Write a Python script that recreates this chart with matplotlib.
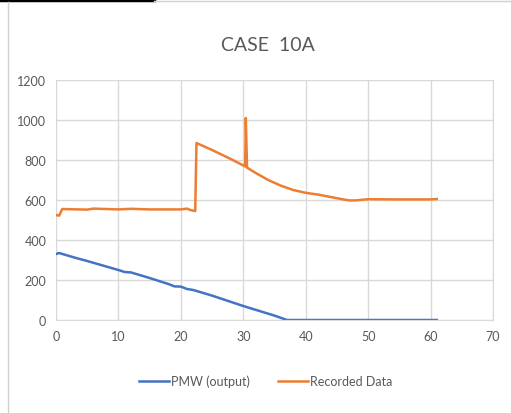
import matplotlib.pyplot as plt
from matplotlib.lines import Line2D

# PMW (output)
pmw_x = [0, 0.5, 3, 5, 8, 10, 11, 12, 15, 18, 19, 20, 21, 22, 25, 30, 35, 37, 40, 50, 61]
pmw_y = [330, 335, 312, 295, 268, 250, 240, 238, 210, 180, 168, 167, 155, 150, 122, 70, 22, 0, 0, 0, 0]

# Recorded Data
rec_x = [0, 0.5, 1, 5, 6, 10, 12, 15, 20, 21, 21.5, 22.3, 22.5, 23, 25, 28, 30.3, 30.4, 30.6,
         32, 34, 36, 38, 40, 42, 44, 46, 47, 48, 50, 55, 60, 61]
rec_y = [525, 522, 555, 552, 557, 553, 556, 553, 553, 557, 550, 545, 885, 878, 850, 805, 768, 1010, 762,
         735, 700, 672, 650, 636, 627, 615, 603, 598, 598, 604, 603, 603, 605]

title = "CASE  10A"
grey = "#595959"

plt.rcParams['font.family'] = ['Lato', 'DejaVu Sans']

fig = plt.figure(figsize=(5.11, 4.14), dpi=100)
ax = fig.add_axes([0.1096, 0.2246, 0.8552, 0.5797])

ax.plot(pmw_x, pmw_y, color="#4472C4", linewidth=1.8, label="PMW (output)")
ax.plot(rec_x, rec_y, color="#ED7D31", linewidth=1.8, label="Recorded Data")

ax.set_xlim(0, 70)
ax.set_ylim(0, 1200)
ax.set_xticks(range(0, 71, 10))
ax.set_yticks(range(0, 1201, 200))
ax.grid(True, color="#D9D9D9", linewidth=1)
ax.set_axisbelow(True)
for s in ["top", "left"]:
    ax.spines[s].set_visible(False)
ax.spines["right"].set_color("#D9D9D9")
ax.spines["bottom"].set_color("#D9D9D9")
ax.tick_params(length=0, labelsize=9, labelcolor=grey, pad=7)

fig.text(0.525, 0.891, title, ha="center", va="center", fontsize=14, color=grey)
ax.legend(loc="center", bbox_to_anchor=(0.52, 0.077), bbox_transform=fig.transFigure,
          ncol=2, frameon=False, fontsize=9, labelcolor=grey, handlelength=2.4,
          handletextpad=0.2, columnspacing=2.2)

# chart border bits
fig.add_artist(Line2D([0, 0.302], [0.998, 0.998], color="black", linewidth=2.5))
fig.add_artist(Line2D([0.302, 1], [0.996, 0.996], color="#D0D0D0", linewidth=1))
fig.add_artist(Line2D([0.016, 0.016], [0.0, 0.993], color="#D0D0D0", linewidth=1))

fig.savefig("out.png", dpi=100)
